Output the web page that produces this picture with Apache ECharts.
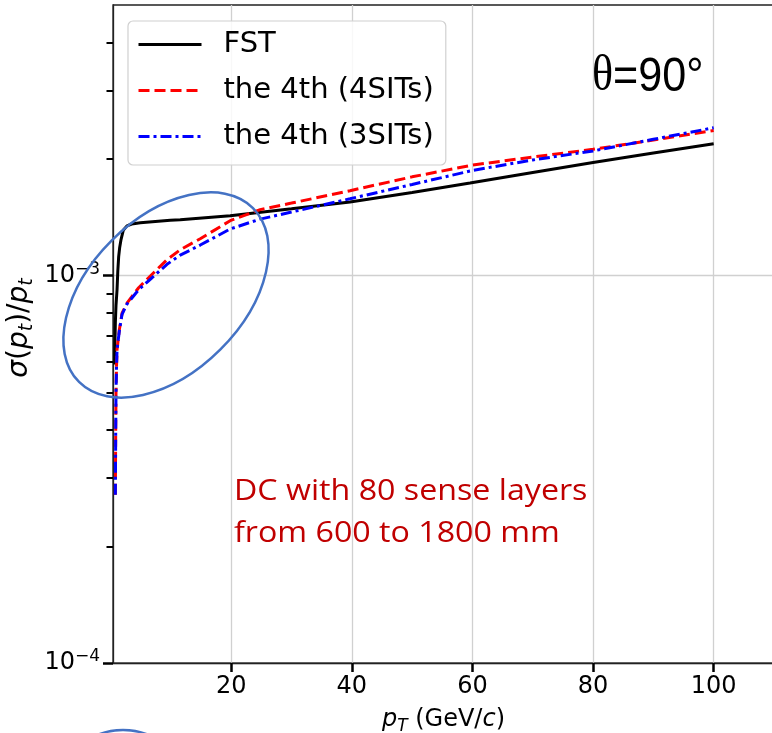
<!DOCTYPE html>
<html>
<head>
<meta charset="utf-8">
<script src="https://cdn.jsdelivr.net/npm/echarts@6/dist/echarts.min.js"></script>
<style>
html,body{margin:0;padding:0;background:#fff;}
#chart{width:772px;height:733px;}
</style>
</head>
<body>
<div id="chart"></div>
<script>
// ---- data (sigma values in units of 1e-3) ----
var seriesNames = ['FST', 'the 4th (4SITs)', 'the 4th (3SITs)'];
var fstPt  = [0.67, 0.72, 0.79, 0.9, 1.07, 1.2, 1.34, 1.5, 1.73, 2.1, 2.72, 3.5, 4.93, 9.9, 11.55, 19.83, 30, 39.7, 50, 59.6, 70, 80, 90, 100];
var fstSig = [0.59, 0.67, 0.756, 0.84, 0.92, 1.03, 1.12, 1.18, 1.24, 1.31, 1.345, 1.36, 1.37, 1.391, 1.395, 1.429, 1.488, 1.55, 1.641, 1.736, 1.848, 1.96, 2.075, 2.19];
var sitPt  = [0.79, 0.85, 0.9, 0.98, 1.07, 1.45, 1.9, 2.72, 4.65, 6.3, 9.35, 11.55, 14.87, 19.83, 24.8, 30, 39.7, 50, 60, 70, 80, 90, 100];
var sit4Sig = [0.272, 0.40, 0.50, 0.58, 0.644, 0.725, 0.80, 0.85, 0.931, 0.988, 1.10, 1.167, 1.246, 1.387, 1.481, 1.54, 1.658, 1.80, 1.93, 2.025, 2.12, 2.24, 2.37];
var sit3Sig = [0.272, 0.40, 0.50, 0.58, 0.644, 0.72, 0.795, 0.845, 0.92, 0.97, 1.07, 1.13, 1.20, 1.32, 1.40, 1.46, 1.58, 1.72, 1.87, 1.99, 2.10, 2.25, 2.41];
var xTicks = [20, 40, 60, 80, 100];
var yMajorTicks = [1e-4, 1e-3];
var yMinorTicks = [2e-4, 3e-4, 4e-4, 5e-4, 6e-4, 7e-4, 8e-4, 9e-4, 2e-3, 3e-3, 4e-3];
var yExp = {'0.0001': '−4', '0.001': '−3'};
var annotTheta = 'θ';
var annotAngle = '=90°';
var annotLines = ['DC with 80 sense layers', 'from 600 to 1800 mm'];

function pairs(xs, ys) {
  return xs.map(function (x, i) { return [x, ys[i] * 1e-3]; });
}

var chart = echarts.init(document.getElementById('chart'), null, {renderer: 'canvas'});
var FONT = 'DejaVu Sans';
var option = {
  animation: false,
  backgroundColor: '#fff',
  grid: {left: 113, top: 5, width: 661, bottom: 70, outerBoundsMode: 'none', containLabel: false,
         show: true, borderColor: '#222', borderWidth: 1.3, backgroundColor: 'transparent'},
  legend: {
    orient: 'vertical', left: 128, top: 21,
    data: seriesNames,
    itemWidth: 63, itemHeight: 30, itemGap: 17,
    padding: [9, 12, 14, 9],
    backgroundColor: 'rgba(255,255,255,0.85)',
    borderColor: '#d0d0d0', borderWidth: 1.2, borderRadius: 5,
    itemStyle: {opacity: 0},
    lineStyle: {width: 3},
    textStyle: {fontFamily: FONT, fontSize: 29, color: '#000', padding: [0, 0, 0, 17]}
  },
  xAxis: {
    type: 'value', min: 0.4, max: 110,
    axisLine: {show: true, lineStyle: {color: '#222', width: 1.3}},
    axisTick: {show: true, customValues: xTicks, length: 9, lineStyle: {color: '#000', width: 2.5}},
    axisLabel: {customValues: xTicks, fontFamily: FONT, fontSize: 24, color: '#000', margin: 12},
    splitLine: {show: true, lineStyle: {color: '#d0d0d0', width: 1.3}},
    name: '{i|p}{s|T}{n| (GeV/}{i|c}{n|)}',
    nameLocation: 'middle', nameGap: 42,
    nameTextStyle: {
      rich: {
        i: {fontFamily: FONT, fontStyle: 'italic', fontSize: 24, color: '#000', lineHeight: 30},
        n: {fontFamily: FONT, fontSize: 24, color: '#000', lineHeight: 30},
        s: {fontFamily: FONT, fontStyle: 'italic', fontSize: 17, color: '#000', lineHeight: 17, verticalAlign: 'bottom'}
      }
    }
  },
  yAxis: [{
    type: 'log', logBase: 10, min: 1e-4, max: 5e-3,
    axisLine: {show: true, lineStyle: {color: '#222', width: 1.3}},
    axisTick: {show: true, customValues: yMajorTicks, length: 10, lineStyle: {color: '#000', width: 2.5}},
    axisLabel: {
      customValues: yMajorTicks, margin: 13,
      formatter: function (v) { return '{b|10}{e|' + (yExp[String(v)] || '') + '}'; },
      rich: {
        b: {fontFamily: FONT, fontSize: 24, color: '#000', lineHeight: 30},
        e: {fontFamily: FONT, fontSize: 17, color: '#000', lineHeight: 17, verticalAlign: 'top'}
      }
    },
    splitLine: {show: true, lineStyle: {color: '#d0d0d0', width: 1.3}},
    name: '{i|σ}{n|(}{i|p}{s|t}{n|)/}{i|p}{s|t}',
    nameLocation: 'middle', nameGap: 76, nameRotate: 90, nameMoveOverlap: false,
    nameTextStyle: {
      padding: [0, 0, 0, 12],
      rich: {
        i: {fontFamily: FONT, fontStyle: 'italic', fontSize: 28, color: '#000', lineHeight: 34},
        n: {fontFamily: FONT, fontSize: 28, color: '#000', lineHeight: 34},
        s: {fontFamily: FONT, fontStyle: 'italic', fontSize: 19, color: '#000', lineHeight: 19, verticalAlign: 'bottom'}
      }
    }
  }, {
    type: 'log', logBase: 10, min: 1e-4, max: 5e-3, position: 'left',
    axisLine: {show: false},
    axisTick: {show: true, customValues: yMinorTicks, length: 6.5, lineStyle: {color: '#000', width: 2}},
    axisLabel: {show: false},
    splitLine: {show: false}
  }],
  series: [{
    name: seriesNames[0], type: 'line', data: pairs(fstPt, fstSig), showSymbol: false, symbol: 'none',
    smooth: false, lineStyle: {color: '#000', width: 3}, itemStyle: {color: '#000'}, z: 3
  }, {
    name: seriesNames[1], type: 'line', data: pairs(sitPt, sit4Sig), showSymbol: false, symbol: 'none',
    smooth: false, lineStyle: {color: '#ff0000', width: 3, type: [11, 5]}, itemStyle: {color: '#ff0000'}, z: 4
  }, {
    name: seriesNames[2], type: 'line', data: pairs(sitPt, sit3Sig), showSymbol: false, symbol: 'none',
    smooth: false, lineStyle: {color: '#0000ff', width: 3, type: [11, 4, 3, 4]}, itemStyle: {color: '#0000ff'}, z: 5
  }],
  graphic: [{
    type: 'ellipse', x: 166, y: 295, rotation: Math.PI / 4,
    shape: {cx: 0, cy: 0, rx: 123, ry: 77},
    style: {fill: 'none', stroke: '#4472C4', lineWidth: 2.5}, z: 10
  }, {
    type: 'circle', shape: {cx: 123, cy: 796, r: 66},
    style: {fill: 'none', stroke: '#4472C4', lineWidth: 2.5}, z: 10
  }, {
    type: 'text', x: 592, y: 52, scaleX: 0.88,
    style: {
      text: '{s|' + annotTheta + '}{n|' + annotAngle + '}',
      rich: {
        s: {fontFamily: 'Liberation Serif', fontSize: 50, fill: '#000'},
        n: {fontFamily: 'Liberation Sans', fontSize: 49, fill: '#000'}
      }
    }, z: 10
  }, {
    type: 'text', x: 234, y: 471, scaleX: 1.11,
    style: {text: annotLines.join('\n'), fontFamily: 'Open Sans', fontSize: 29, lineHeight: 42, fill: '#C00000'}, z: 10
  }]
};
chart.setOption(option);
</script>
</body>
</html>
